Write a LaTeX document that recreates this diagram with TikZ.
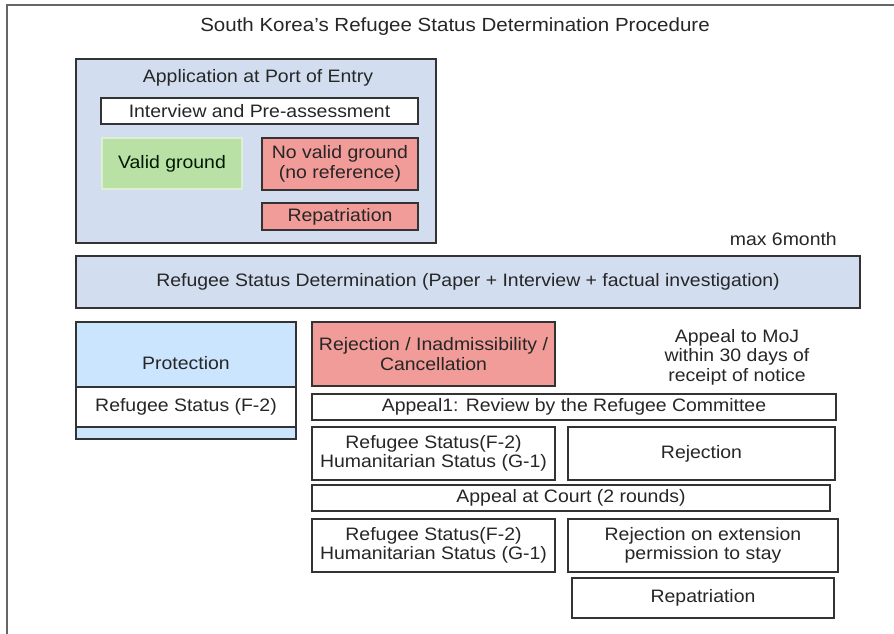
\documentclass[tikz,border=0pt]{standalone}
\usepackage{fontspec}
\setmainfont{Liberation Sans}[FakeStretch=1.08]
\definecolor{portblue}{HTML}{D2DEF0}
\definecolor{protblue}{HTML}{CCE5FF}
\definecolor{okgreen}{HTML}{B9E0A5}
\definecolor{nored}{HTML}{F19C99}
\definecolor{edgegray}{HTML}{333333}
\begin{document}
\begin{tikzpicture}[x=1pt,y=-1pt]
    \tikzset{txt/.style={text=black!85, align=center, inner sep=0pt, font=\fontsize{18}{19.5}\selectfont}}
    \tikzset{box/.style={txt, draw=edgegray, line width=1.2pt, fill=white}}
    \tikzset{redbox/.style={box, fill=nored}}
    \tikzset{bluebox/.style={box, fill=portblue}}
    \useasboundingbox (0,0) rectangle (894,634);
    \draw[black!60, line width=2pt] (7,634) -- (7,5.5) -- (894,5.5);
    \node[txt, font=\fontsize{19}{21}\selectfont] (title) at (455,27) {South Korea's Refugee Status Determination Procedure};
    \node[bluebox, minimum width=360pt, minimum height=184pt] (port) at (256,151) {};
    \node[txt] (porthead) at (258,78) {Application at Port of Entry};
    \node[box, minimum width=317pt, minimum height=26pt] (interview) at (259.5,111) {Interview and Pre-assessment};
    \node[box, draw=okgreen!50!white, fill=okgreen, text=black!75!green!40!black, minimum width=140pt, minimum height=51pt] (valid) at (172,163.5) {Valid ground};
    \node[redbox, minimum width=156pt, minimum height=52pt] (novalid) at (340,164) {No valid ground\\(no reference)};
    \node[redbox, minimum width=156pt, minimum height=27pt] (repatA) at (340,216.5) {Repatriation};
    \node[txt, anchor=base east] (maxtime) at (837,245) {max 6month};
    \node[bluebox, minimum width=784pt, minimum height=52pt] (rsd) at (468,282) {Refugee Status Determination (Paper + Interview + factual investigation)};
    \node[box, fill=protblue, minimum width=220pt, minimum height=117pt] (protect) at (186,380.5) {};
    \node[txt] (protecthead) at (186,363) {Protection};
    \node[box, minimum width=220pt, minimum height=40pt] (statusF) at (186,407) {Refugee Status (F-2)};
    \node[redbox, minimum width=243pt, minimum height=64pt] (reject) at (433.5,354) {Rejection / Inadmissibility /\\Cancellation};
    \node[txt] (moj) at (737,357) {Appeal to MoJ\\within 30 days of\\receipt of notice};
    \node[box, minimum width=524pt, minimum height=26pt] (appealA) at (574,407) {Appeal1: Review by the Refugee Committee};
    \node[box, minimum width=243pt, minimum height=53pt] (grantA) at (433.5,453.5) {Refugee Status(F-2)\\Humanitarian Status (G-1)};
    \node[box, minimum width=267pt, minimum height=53pt] (rejectA) at (701.5,453.5) {Rejection};
    \node[box, minimum width=518pt, minimum height=26pt] (court) at (571,498) {Appeal at Court (2 rounds)};
    \node[box, minimum width=243pt, minimum height=53pt] (grantB) at (433.5,545.5) {Refugee Status(F-2)\\Humanitarian Status (G-1)};
    \node[box, minimum width=270pt, minimum height=53pt] (rejectB) at (703,545.5) {Rejection on extension\\permission to stay};
    \node[box, minimum width=262pt, minimum height=40pt] (repatB) at (703,598) {Repatriation};
\end{tikzpicture}
\end{document}
